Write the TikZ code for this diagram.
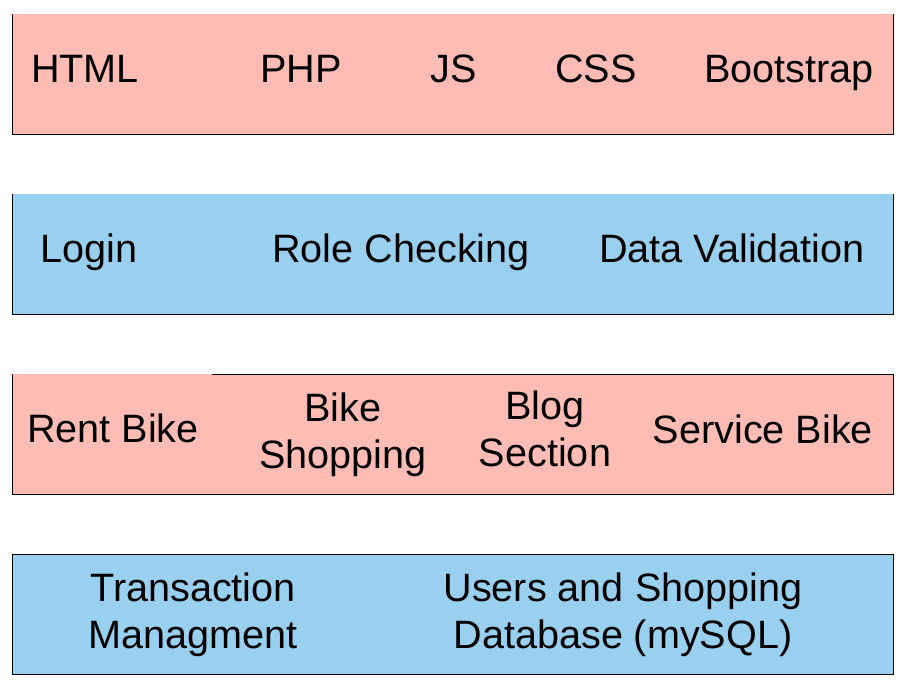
\documentclass[tikz,border=0pt]{standalone}
\usepackage{fontspec}
\setmainfont{Liberation Sans}
\usepackage{tikz}
\definecolor{bandred}{RGB}{255,188,180}
\definecolor{bandblue}{RGB}{153,208,240}

\begin{document}
\begin{tikzpicture}[x=1pt, y=-1pt,
    redband/.style={fill=bandred},
    blueband/.style={fill=bandblue},
    edge/.style={line width=0.8pt, black},
    lbl/.style={inner sep=0pt, anchor=base, align=center, font=\fontsize{39.6}{47}\selectfont}]
  \useasboundingbox (0,0) rectangle (906,689);
  % layer 1
  \fill[redband] (12,14) rectangle (893,134);
  \draw[edge] (12,14) -- (12,134) -- (893,134) -- (893,14);
  \node[lbl] (html) at (85,82) {HTML};
  \node[lbl] (php) at (301,82) {PHP};
  \node[lbl] (js) at (454,82) {JS};
  \node[lbl] (css) at (596,82) {CSS};
  \node[lbl] (bootstrap) at (789,82) {Bootstrap};
  % layer 2
  \fill[blueband] (12,194) rectangle (893,314);
  \draw[edge] (12,194) -- (12,314) -- (893,314) -- (893,194);
  \node[lbl] (login) at (89,262) {Login};
  \node[lbl] (role) at (401,262) {Role Checking};
  \node[lbl] (valid) at (732,262) {Data Validation};
  % layer 3
  \fill[redband] (12,374) rectangle (893,494);
  \draw[edge] (212,374) -- (893,374) -- (893,494) -- (12,494) -- (12,374);
  \node[lbl] (rent) at (113,442) {Rent Bike};
  \node[lbl] (shop) at (343,468) {Bike\\Shopping};
  \node[lbl] (blog) at (545,466) {Blog\\Section};
  \node[lbl] (service) at (763,443) {Service Bike};
  % layer 4
  \draw[edge, blueband] (12,554) rectangle (893,674);
  \node[lbl] (trans) at (193,648) {Transaction\\Managment};
  \node[lbl] (db) at (623,648) {Users and Shopping\\Database (mySQL)};
\end{tikzpicture}
\end{document}
